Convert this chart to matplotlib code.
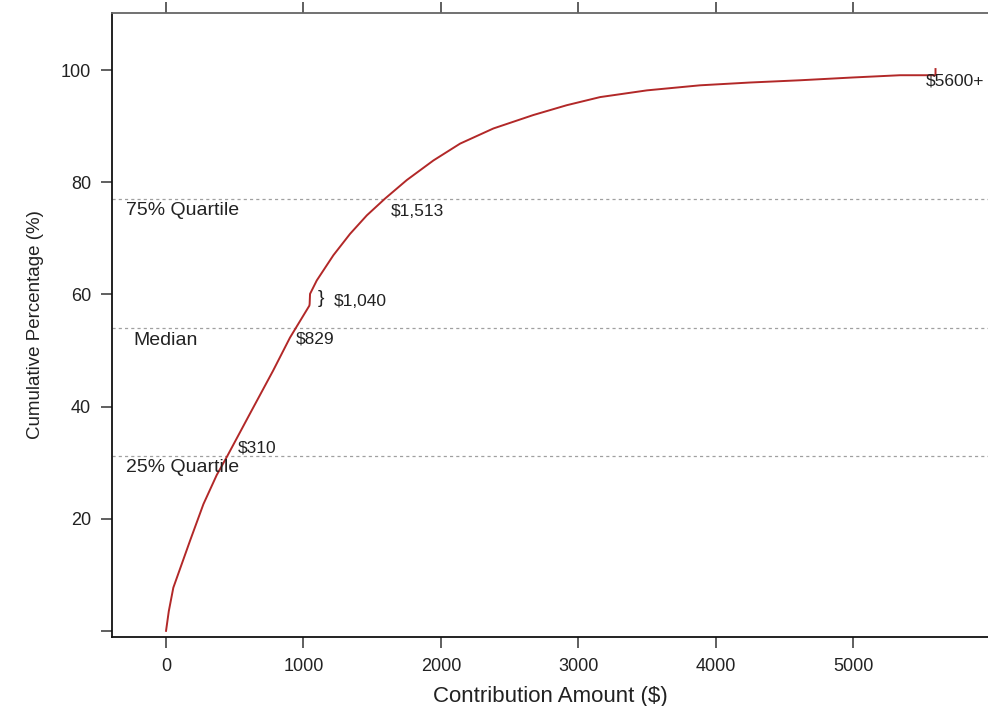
import matplotlib
matplotlib.use("Agg")
import matplotlib.pyplot as plt

plt.rcParams["font.family"] = ["Liberation Sans", "DejaVu Sans"]

# cumulative share of contributions vs. amount
amounts = [0, 20, 53, 114, 175, 272, 369, 444, 611, 779, 902, 1043, 1045,
           1048, 1097, 1218, 1339, 1461, 1594, 1752, 1946, 2140, 2382, 2673,
           2916, 3159, 3500, 3886, 4250, 4614, 5000, 5342, 5600, 5600]
cum_pct = [0, 3.5, 7.7, 11.9, 16.1, 22.6, 27.8, 31.1, 38.75, 46.4, 52.3, 58.0,
           58.3, 60.1, 62.5, 67.0, 70.8, 74.1, 77.1, 80.4, 83.9, 86.9, 89.6,
           92.0, 93.75, 95.2, 96.4, 97.3, 97.8, 98.2, 98.7, 99.1, 99.1, 100.2]

quartile_names = ["25% Quartile", "Median", "75% Quartile"]
quartile_pct = [31.1, 54.1, 77.0]
quartile_amt = ["$310", "$829", "$1,513"]

x_ticks = [0, 1000, 2000, 3000, 4000, 5000]
y_ticks = [0, 20, 40, 60, 80, 100]
y_tick_labels = ["", "20", "40", "60", "80", "100"]

LINE = "#b22828"
GRID = "#a0a0a0"
INK = "#222222"

fig = plt.figure(figsize=(9.88, 7.06), dpi=100)
ax = fig.add_axes([0.1134, 0.0977, 0.8866, 0.8839])

ax.plot(amounts, cum_pct, color=LINE, linewidth=1.4, zorder=3)

for p in quartile_pct:
    ax.axhline(p, color=GRID, linestyle=(0, (2.5, 2.5)), linewidth=0.9, zorder=1)

# quartile captions
ax.text(-291, quartile_pct[2] - 2.0, quartile_names[2], fontsize=14, color=INK, va="center")
ax.text(-240, quartile_pct[1] - 2.3, quartile_names[1], fontsize=14, color=INK, va="center")
ax.text(-291, quartile_pct[0] - 2.0, quartile_names[0], fontsize=14, color=INK, va="center")

ax.text(1638, quartile_pct[2] - 2.2, quartile_amt[2], fontsize=12.5, color=INK, va="center")
ax.text(946, quartile_pct[1] - 2.1, quartile_amt[1], fontsize=12.5, color=INK, va="center")
ax.text(524, quartile_pct[0] + 1.6, quartile_amt[0], fontsize=12.5, color=INK, va="center")

ax.text(1106, 59.3, "}", fontsize=14, color=INK, va="center")
ax.text(1223, 58.75, "$1,040", fontsize=12.5, color=INK, va="center")
ax.text(5531, 98.0, "$5600+", fontsize=12.5, color=INK, va="center")

ax.set_xlim(-393, 5982)
ax.set_ylim(-1.1, 110.2)

ax.set_xticks(x_ticks)
ax.set_yticks(y_ticks)
ax.set_yticklabels(y_tick_labels)
ax.tick_params(axis="both", direction="out", length=8, width=1.2, color="#444444",
               labelsize=13, labelcolor=INK, pad=7)
ax.tick_params(axis="x", top=True, labeltop=False)

ax.spines["right"].set_visible(False)
ax.spines["top"].set_color("#666666")
ax.spines["left"].set_color("#111111")
ax.spines["bottom"].set_color("#111111")
for s in ["top", "left", "bottom"]:
    ax.spines[s].set_linewidth(1.3)

ax.set_xlabel("Contribution Amount ($)", fontsize=16, color=INK, labelpad=8)
ax.set_ylabel("Cumulative Percentage (%)", fontsize=13.5, color=INK, labelpad=12)

fig.savefig("out.png", dpi=100, facecolor="white")
